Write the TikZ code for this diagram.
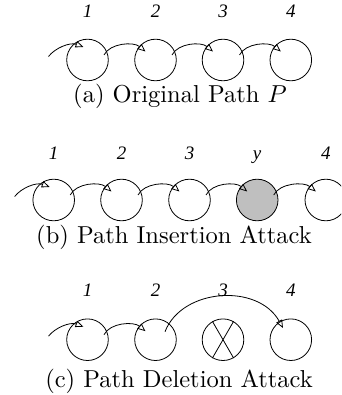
\documentclass[tikz,border=0pt]{standalone}
\usepackage{fontspec}
\usepackage{graphicx}
\newfontfamily\labfont{Liberation Serif}
\usetikzlibrary{calc,arrows.meta}
\newcommand\captxt[1]{\scalebox{2.45}{\fontsize{10}{12}\selectfont #1}}
\newcommand\labtxt[1]{{\labfont\itshape\fontsize{19}{22}\selectfont #1}}
\tikzset{
  circ/.style={circle,draw,line width=0.8pt,minimum size=41.6pt,inner sep=0pt},
  gcirc/.style={circ,fill=black!25},
  arr/.style={line width=0.8pt,-{Triangle[open,length=8pt,width=6.5pt]}},
  lab/.style={anchor=base,inner sep=0pt},
  captext/.style={inner sep=0pt},
  xline/.style={line width=0.8pt}
}
\newcommand\linkto[2]{\draw[arr] ($(#1)+(16.5,-5)$) .. controls ($(#1)+(22.5,-17)$) and ($(#2)+(-22,-18.5)$) .. ($(#2)+(-10,-8.5)$);}
\newcommand\incoming[1]{\draw[arr] ($(#1)+(-39,-3.5)$) .. controls ($(#1)+(-32.5,-12)$) and ($(#1)+(-17.5,-18)$) .. ($(#1)+(-4,-13)$);}
\begin{document}
\begin{tikzpicture}[x=1pt,y=-1pt]
\clip (0,0) rectangle (341,395);
\fill[white] (0,0) rectangle (341,395);
% (a)
\node[circ] (a1) at (87.5,60) {};
\node[circ] (a2) at (155.5,60) {};
\node[circ] (a3) at (223,60) {};
\node[circ] (a4) at (290.8,60) {};
\node[lab] (la1) at (87.5,17.5) {\labtxt{1}};
\node[lab] (la2) at (155.5,17.5) {\labtxt{2}};
\node[lab] (la3) at (223,17.5) {\labtxt{3}};
\node[lab] (la4) at (290.8,17.5) {\labtxt{4}};
\incoming{a1}
\linkto{a1}{a2}
\linkto{a2}{a3}
\linkto{a3}{a4}
\node[captext] (capa) at (180,96.7) {\captxt{(a) Original Path $P$}};
% (b)
\node[circ] (b1) at (53.7,200) {};
\node[circ] (b2) at (121.5,200) {};
\node[circ] (b3) at (189.5,200) {};
\node[gcirc] (b4) at (257.2,200) {};
\node[circ] (b5) at (325.8,200) {};
\node[lab] (lb1) at (53.7,160) {\labtxt{1}};
\node[lab] (lb2) at (121.5,160) {\labtxt{2}};
\node[lab] (lb3) at (189.5,160) {\labtxt{3}};
\node[lab] (lb4) at (257.2,160) {\labtxt{y}};
\node[lab] (lb5) at (325.8,160) {\labtxt{4}};
\incoming{b1}
\linkto{b1}{b2}
\linkto{b2}{b3}
\linkto{b3}{b4}
\linkto{b4}{b5}
\node[captext] (capb) at (174,237.5) {\captxt{(b) Path Insertion Attack}};
% (c)
\node[circ] (c1) at (87.5,339.7) {};
\node[circ] (c2) at (155.5,339.7) {};
\node[circ] (c3) at (223,339.7) {};
\node[circ] (c4) at (290.8,339.7) {};
\draw[xline] (c3.120) -- (c3.-60);
\draw[xline] (c3.60) -- (c3.-120);
\node[lab] (lc1) at (87.5,296.5) {\labtxt{1}};
\node[lab] (lc2) at (155.5,296.5) {\labtxt{2}};
\node[lab] (lc3) at (223,296.5) {\labtxt{3}};
\node[lab] (lc4) at (290.8,296.5) {\labtxt{4}};
\incoming{c1}
\linkto{c1}{c2}
\draw[arr] ($(c2)+(9.5,-8)$) .. controls ($(c2)+(26.5,-51.7)$) and ($(c4)+(-32.8,-56.7)$) .. ($(c4)+(-7.8,-11.7)$);
\node[captext] (capc) at (179,381) {\captxt{(c) Path Deletion Attack}};
\end{tikzpicture}
\end{document}
